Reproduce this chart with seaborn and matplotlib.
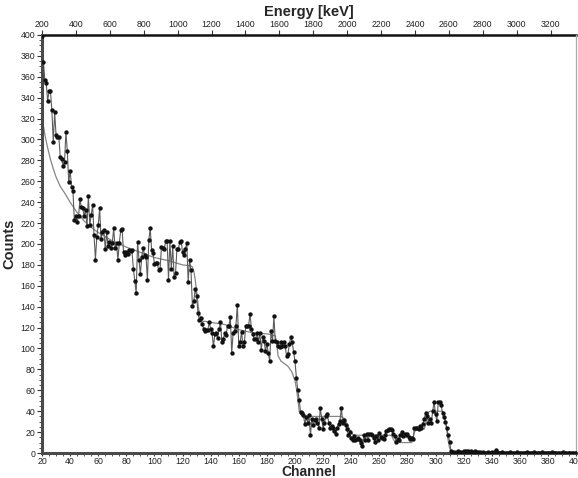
import numpy as np
import matplotlib
matplotlib.use("Agg")
import matplotlib.pyplot as plt
from matplotlib.ticker import MultipleLocator
import seaborn as sns

# ---------------------------------------------------------------------------
# Data (one value per channel 20..400)
# ---------------------------------------------------------------------------
channel = np.arange(20, 401)

counts = (
    [399, 374, 357, 354, 337, 346, 346, 328, 298, 326, 304, 302, 302, 283, 281, 275, 278, 307, 289, 259]    # 20-39
    + [270, 255, 251, 223, 227, 221, 227, 243, 235, 234, 227, 233, 217, 246, 218, 228, 237, 209, 185, 207]  # 40-59
    + [218, 234, 205, 211, 213, 195, 211, 198, 202, 196, 201, 215, 196, 201, 185, 201, 213, 214, 192, 189]  # 60-79
    + [192, 190, 194, 193, 194, 176, 165, 153, 202, 185, 171, 188, 196, 189, 188, 166, 204, 215, 194, 191]  # 80-99
    + [181, 182, 182, 175, 176, 197, 196, 195, 203, 203, 166, 203, 176, 198, 168, 172, 195, 195, 202, 203]  # 100-119
    + [192, 189, 195, 201, 164, 185, 175, 141, 145, 157, 150, 134, 127, 129, 123, 119, 117, 118, 118, 125]  # 120-139
    + [119, 115, 102, 114, 115, 110, 119, 125, 106, 109, 115, 113, 122, 122, 130, 96, 115, 117, 122, 142]   # 140-159
    + [102, 106, 116, 102, 106, 122, 122, 122, 133, 119, 114, 109, 109, 115, 106, 115, 99, 111, 107, 98]    # 160-179
    + [104, 96, 88, 117, 107, 131, 107, 106, 102, 101, 106, 102, 106, 102, 93, 95, 104, 111, 106, 97]       # 180-199
    + [88, 72, 60, 51, 39, 38, 36, 28, 34, 29, 36, 17, 33, 27, 32, 33, 29, 24, 43, 33]                      # 200-219
    + [23, 29, 35, 37, 29, 24, 26, 24, 21, 18, 24, 28, 31, 43, 29, 32, 27, 23, 17, 20]                      # 220-239
    + [14, 12, 16, 12, 13, 14, 12, 10, 7, 17, 12, 18, 12, 18, 18, 17, 14, 11, 16, 12]                       # 240-259
    + [19, 15, 14, 13, 17, 21, 22, 23, 23, 22, 18, 16, 11, 13, 12, 17, 20, 16, 18, 17]                      # 260-279
    + [18, 15, 13, 14, 13, 24, 24, 24, 23, 26, 24, 28, 33, 38, 35, 29, 33, 29, 40, 49]                      # 280-299
    + [37, 31, 49, 49, 46, 38, 34, 30, 24, 17, 11, 2, 1, 1, 0, 1, 2, 1, 1, 0]                               # 300-319
    + [2, 1, 2, 2, 1, 2, 1, 0, 2, 1, 1, 0, 1, 0, 1, 0, 0, 1, 0, 0]                                          # 320-339
    + [1, 0, 1, 3, 1, 0, 0, 1, 0, 0, 0, 0, 0, 1, 0, 0, 0, 0, 1, 0]                                          # 340-359
    + [0, 0, 0, 0, 0, 1, 0, 0, 0, 0, 1, 0, 0, 0, 0, 0, 1, 0, 0, 0]                                          # 360-379
    + [0, 0, 0, 1, 0, 0, 0, 0, 0, 0, 0, 1, 0, 0, 0, 0, 0, 0, 0, 0]                                          # 380-399
    + [0]                                                                                                   # 400
)

# smooth fitted curve (knots)
fit_channel = [20, 22, 24, 26, 28, 30, 33, 36, 40, 45,
               50, 55, 60, 65, 70, 80, 90, 100, 110, 120,
               126, 127, 128, 129, 130, 131, 132, 133, 134, 136,
               140, 150, 160, 170, 180, 184, 186, 187, 188, 190,
               193, 195, 197, 198, 199, 200, 201, 202, 203, 204,
               205, 206, 233, 234, 235, 236, 237, 238, 240, 241,
               242, 268, 269, 270, 271, 272, 283, 284, 285, 286,
               287, 292, 293, 294, 295, 296, 305, 306, 307, 308,
               309, 310, 311, 312, 400]
fit_counts = [321, 305, 292, 281, 272, 264, 255, 249, 240, 230,
              222, 216, 211, 207, 203, 197, 192, 187, 184, 180,
              179, 178, 174, 166, 155, 142, 133, 128, 126, 126,
              125, 123, 118, 115, 114, 113, 112, 104, 93, 88,
              85, 83, 79, 77, 73, 69, 62, 52, 40, 37,
              36, 35, 35, 34, 33, 31, 28, 25, 20, 18,
              17, 17, 16, 13, 11, 10, 10, 14, 20, 22,
              23, 23, 28, 35, 39, 40, 40, 38, 32, 22,
              12, 5, 2, 0, 0]

energy_ticks = list(range(200, 3201, 200))
KEV_PER_CH = 8.29   # channel 20 <-> 200 keV


def ch_to_kev(c):
    return 200 + (np.asarray(c) - 20) * KEV_PER_CH


def kev_to_ch(e):
    return 20 + (np.asarray(e) - 200) / KEV_PER_CH


# ---------------------------------------------------------------------------
# Plot
# ---------------------------------------------------------------------------
sns.set_style("white")
plt.rcParams["font.family"] = ["Liberation Sans", "DejaVu Sans"]

fig = plt.figure(figsize=(5.78, 4.78), dpi=100)
ax = fig.add_axes([0.0727, 0.0523, 0.9239, 0.8745])

sns.lineplot(x=fit_channel, y=fit_counts, ax=ax, color="#858585",
             linewidth=0.9, estimator=None, sort=False)
sns.lineplot(x=channel, y=counts, ax=ax, color="#5c5c5c",
             linewidth=0.8, estimator=None)
sns.scatterplot(x=channel, y=counts, ax=ax, color="#111111", s=10,
                linewidth=0, zorder=3)

ax.set_xlim(20, 400)
ax.set_ylim(0, 400)
ax.xaxis.set_major_locator(MultipleLocator(20))
ax.xaxis.set_minor_locator(MultipleLocator(5))
ax.yaxis.set_major_locator(MultipleLocator(20))
ax.yaxis.set_minor_locator(MultipleLocator(5))

ax.tick_params(axis="both", which="both", bottom=True, left=True,
               direction="out", colors="#333333", labelcolor="#222222")
ax.tick_params(axis="both", which="major", length=3.5, width=0.8,
               labelsize=6.3, pad=1.5)
ax.tick_params(axis="x", which="major", length=2.5, pad=0.3)
ax.tick_params(axis="both", which="minor", length=2, width=0.6)

ax.set_xlabel("Channel", fontsize=10, fontweight="bold", labelpad=-0.5)
ax.set_ylabel("Counts", fontsize=10.5, fontweight="bold", labelpad=3)

for side in ["left", "bottom"]:
    ax.spines[side].set_linewidth(2.2)
    ax.spines[side].set_color("#4a4a4a")
ax.spines["right"].set_linewidth(0.9)
ax.spines["right"].set_color("#aaaaaa")
ax.spines["top"].set_visible(False)

secax = ax.secondary_xaxis("top", functions=(ch_to_kev, kev_to_ch))
secax.set_xticks(energy_ticks)
secax.tick_params(axis="x", which="major", top=True, direction="out",
                  length=3.5, width=0.8, labelsize=6.3, pad=1,
                  colors="#333333", labelcolor="#222222")
secax.spines["top"].set_linewidth(1.8)
secax.spines["top"].set_color("#111111")
secax.set_xlabel("Energy [keV]", fontsize=10.5, fontweight="bold", labelpad=3)

fig.savefig("out.png", dpi=100)
